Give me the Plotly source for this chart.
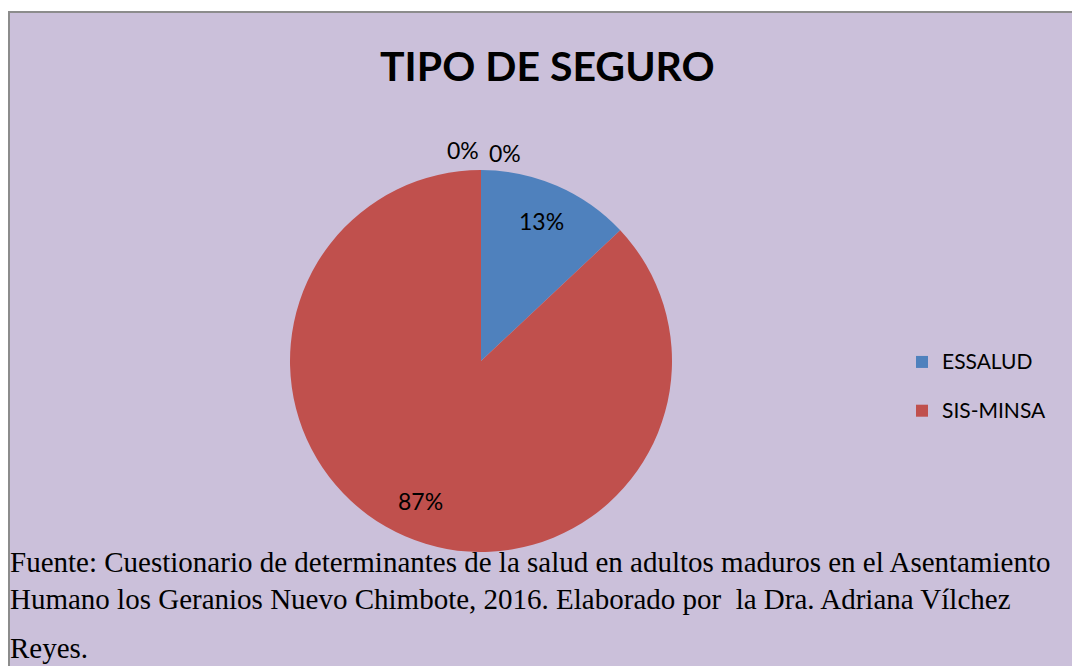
import math
import plotly.graph_objects as go

W, H = 1072, 666

categories = ["ESSALUD", "SIS-MINSA"]
values = [13, 87]
colors = ["#4F81BD", "#C0504D"]
zero_categories = ["Otro 1", "Otro 2"]
zero_values = [0, 0]

title_text = "TIPO DE SEGURO"
source_lines = [
    "Fuente: Cuestionario de determinantes de la salud en adultos maduros en el Asentamiento",
    "Humano los Geranios Nuevo Chimbote, 2016. Elaborado por&nbsp;&nbsp;la Dra. Adriana Vílchez",
    "Reyes.",
]

BG = "#CBC0DA"
SANS = "Lato, Carlito, Calibri, sans-serif"
SERIF = "Liberation Serif, Times New Roman, serif"


def px(x):
    return x / W


def py(y):
    return 1 - y / H


# pie geometry (pixels)
cx, cy, R = 481, 361, 191

fig = go.Figure()
fig.add_trace(go.Pie(
    labels=[f"<span style='font-size:21px'>{c}</span><br> " for c in categories],
    values=values,
    marker=dict(colors=colors),
    sort=False,
    direction="clockwise",
    rotation=0,
    textinfo="none",
    hovertext=categories,
    hoverinfo="text+percent",
    domain=dict(x=[px(cx - R), px(cx + R)], y=[py(cy + R), py(cy - R)]),
    showlegend=True,
))

annotations = []
total = sum(values) + sum(zero_values)
start = 0.0
for v in values:
    frac = v / total
    mid = (start + frac / 2) * 2 * math.pi
    r = 0.80 * R
    annotations.append(dict(
        x=px(cx + r * math.sin(mid)), y=py(cy - r * math.cos(mid)),
        xref="paper", yref="paper", xanchor="center", yanchor="middle",
        text=f"{round(frac * 100)}%", showarrow=False,
        font=dict(family=SANS, size=23, color="black"),
    ))
    start += frac
# zero-value slices sit at 12 o'clock; their labels go just outside the rim
for i, v in enumerate(zero_values):
    annotations.append(dict(
        x=px(cx + (-18 if i == 0 else 24)), y=py(cy - R - 20 + 3 * i),
        xref="paper", yref="paper", xanchor="center", yanchor="middle",
        text=f"{round(v / total * 100)}%", showarrow=False,
        font=dict(family=SANS, size=23, color="black"),
    ))

annotations.append(dict(
    x=px(547), y=py(66), xref="paper", yref="paper",
    xanchor="center", yanchor="middle",
    text=f"<b>{title_text}</b>", showarrow=False,
    font=dict(family=SANS, size=41, color="black"),
))

for txt, yy in zip(source_lines, [562, 599, 648]):
    annotations.append(dict(
        x=px(8), y=py(yy), xref="paper", yref="paper",
        xanchor="left", yanchor="middle",
        text=txt, showarrow=False,
        font=dict(family=SERIF, size=29, color="black"),
    ))

shapes = [dict(
    type="rect", xref="paper", yref="paper",
    x0=px(9), x1=1.05, y0=-0.05, y1=py(12),
    fillcolor=BG, line=dict(color="#8C8C8C", width=2), layer="below",
)]

fig.update_layout(
    width=W, height=H,
    margin=dict(l=0, r=0, t=0, b=0),
    paper_bgcolor="white",
    plot_bgcolor=BG,
    shapes=shapes,
    annotations=annotations,
    legend=dict(
        x=px(902), y=py(344), xanchor="left", yanchor="top",
        font=dict(family=SANS, size=17.6, color="black"),
        bgcolor="rgba(0,0,0,0)",
        valign="top",
        itemwidth=30,
    ),
)

fig.write_html(
    "out.html",
    config={"displayModeBar": False},
    post_script="document.body.style.margin='0';document.body.style.overflow='hidden';",
)
